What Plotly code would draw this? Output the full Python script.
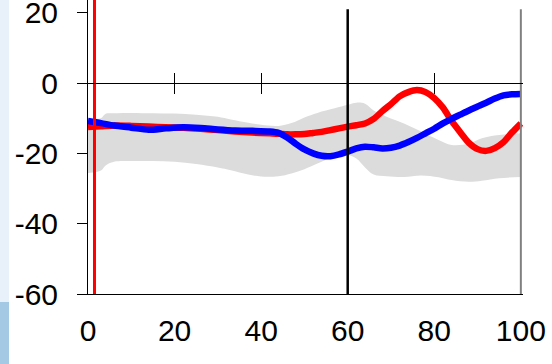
import plotly.graph_objects as go

# ---- data ----
x_ticks = [0, 20, 40, 60, 80, 100]
x_tick_labels = ["0", "20", "40", "60", "80", "100"]
y_ticks = [-60, -40, -20, 0, 20]
y_tick_labels = ["-60", "-40", "-20", "0", "20"]

line_x = [0, 3, 6, 10, 14, 18, 22, 26, 30, 34, 38, 42, 44, 46, 48, 50, 52, 54, 56, 58,
          60, 62, 64, 66, 68, 70, 72, 74, 76, 78, 80, 82, 84, 86, 88, 90, 92, 94, 96, 98, 100]
red_values = [-12.5, -12.3, -12.1, -12.2, -12.4, -12.6, -12.7, -13.0, -13.4, -13.8, -14.1, -14.3, -14.4,
              -14.6, -14.6, -14.5, -14.2, -13.9, -13.4, -12.9, -12.4, -12.0, -11.5, -10.2, -8.0, -6.0,
              -3.8, -2.6, -2.0, -2.6, -4.3, -7.0, -10.8, -14.0, -17.0, -18.8, -19.3, -18.5, -16.8,
              -14.0, -11.5]
blue_values = [-10.8, -11.4, -12.1, -12.7, -13.3, -12.9, -12.6, -12.8, -13.2, -13.5, -13.6, -13.8, -14.2,
               -15.5, -17.3, -18.9, -20.0, -20.7, -20.8, -20.3, -19.5, -18.6, -18.1, -18.3, -18.6, -18.4,
               -17.8, -16.8, -15.6, -14.3, -13.0, -11.5, -10.2, -9.0, -7.8, -6.7, -5.6, -4.4, -3.5,
               -3.2, -3.1]

band_x = [0, 3, 4, 6, 10, 15, 20, 25, 30, 33, 37, 40, 44, 47, 50, 53, 57, 60, 62, 64, 66, 69,
          73, 77, 81, 84, 88, 91, 95, 100]
band_upper = [-10.0, -10.0, -8.8, -8.6, -8.5, -8.6, -8.7, -9.0, -9.6, -10.4, -11.3, -11.9, -12.2, -11.4,
              -9.8, -8.5, -7.2, -6.2, -5.6, -5.9, -7.8, -9.6, -11.5, -13.8, -16.2, -17.6, -17.2, -15.7,
              -14.8, -14.3]
band_lower = [-25.6, -24.9, -23.5, -22.4, -22.2, -22.2, -22.4, -23.0, -24.0, -24.8, -26.0, -26.6, -26.5,
              -25.7, -24.5, -22.9, -21.0, -20.5, -21.5, -24.0, -26.0, -26.5, -26.7, -26.3, -26.8, -27.6,
              -28.1, -27.8, -27.1, -26.7]

event_x = 1.5          # red vertical marker
midline_x = 60         # black vertical line
border_x = 100         # grey right border
vline_span = [-60.5, 21.0]
event_span = [-60.5, 24.0]

X_RANGE = [0, 100.5]
Y_RANGE = [-60, 23.6]

W, H = 552, 364
ML, MR, MT, MB = 88, 29, 0, 70
FONT = "Liberation Sans, Arial, sans-serif"

fig = go.Figure()

# grey band
fig.add_trace(go.Scatter(x=band_x, y=band_lower, mode="lines", line=dict(width=0, shape="spline"),
                         hoverinfo="skip", showlegend=False))
fig.add_trace(go.Scatter(x=band_x, y=band_upper, mode="lines", line=dict(width=0, shape="spline"),
                         fill="tonexty", fillcolor="#dcdcdc", hoverinfo="skip", showlegend=False))

# series
fig.add_trace(go.Scatter(x=line_x, y=red_values, mode="lines",
                         line=dict(color="#ff0000", width=6.5, shape="spline", smoothing=0.8),
                         showlegend=False))
fig.add_trace(go.Scatter(x=line_x, y=blue_values, mode="lines",
                         line=dict(color="#0000ff", width=6.5, shape="spline", smoothing=0.8),
                         showlegend=False))

# vertical lines
fig.add_trace(go.Scatter(x=[event_x, event_x], y=event_span, mode="lines",
                         line=dict(color="#ff0000", width=3), showlegend=False, hoverinfo="skip"))
fig.add_trace(go.Scatter(x=[midline_x, midline_x], y=vline_span, mode="lines",
                         line=dict(color="#000000", width=2.5), showlegend=False, hoverinfo="skip"))
fig.add_trace(go.Scatter(x=[border_x, border_x], y=vline_span, mode="lines",
                         line=dict(color="#808080", width=2), showlegend=False, hoverinfo="skip"))

# helper traces so the zero-line axes are drawn
fig.add_trace(go.Scatter(x=[0], y=[0], xaxis="x2", mode="none", showlegend=False, hoverinfo="skip"))
fig.add_trace(go.Scatter(x=[0], y=[0], xaxis="x3", mode="none", showlegend=False, hoverinfo="skip"))

zero_frac = (0 - Y_RANGE[0]) / (Y_RANGE[1] - Y_RANGE[0])
plot_w = W - ML - MR
plot_h = H - MT - MB

common_zero_axis = dict(overlaying="x", anchor="free", position=zero_frac, range=X_RANGE,
                        tickvals=[20, 40, 60, 80], showticklabels=False, showline=True,
                        linecolor="black", linewidth=1, tickcolor="black", ticklen=10, tickwidth=1,
                        showgrid=False, zeroline=False, automargin=False)

fig.update_layout(
    width=W, height=H,
    margin=dict(l=ML, r=MR, t=MT, b=MB, pad=0, autoexpand=False),
    paper_bgcolor="white", plot_bgcolor="white",
    showlegend=False,
    font=dict(family=FONT, size=30, color="black"),
    xaxis=dict(range=X_RANGE, tickvals=x_ticks, ticktext=x_tick_labels, showline=True,
               linecolor="black", linewidth=1, ticks="", showgrid=False, zeroline=False,
               tickfont=dict(family=FONT, size=30, color="black"), ticklabelstandoff=10,
               automargin=False, ticklabeloverflow="allow"),
    xaxis2=dict(common_zero_axis, ticks="outside"),
    xaxis3=dict(common_zero_axis, ticks="inside"),
    yaxis=dict(range=Y_RANGE, tickvals=y_ticks, ticktext=y_tick_labels, showline=True,
               linecolor="black", linewidth=1, ticks="outside", ticklen=10, tickcolor="black",
               showgrid=False, zeroline=False,
               tickfont=dict(family=FONT, size=30, color="black"), ticklabelstandoff=13,
               automargin=False, ticklabeloverflow="allow"),
    shapes=[
        dict(type="rect", xref="paper", yref="paper",
             x0=(0 - ML) / plot_w, x1=(9 - ML) / plot_w,
             y0=(H - MB - 302) / plot_h, y1=(H - MB - 0) / plot_h,
             fillcolor="#e8f1fa", line=dict(width=0), layer="below"),
        dict(type="rect", xref="paper", yref="paper",
             x0=(0 - ML) / plot_w, x1=(9 - ML) / plot_w,
             y0=(H - MB - 364) / plot_h, y1=(H - MB - 302) / plot_h,
             fillcolor="#a3c9e5", line=dict(width=0), layer="below"),
    ],
)

fig.write_html("out.html", config={"displayModeBar": False},
               post_script="document.body.style.margin='0';document.body.style.overflow='hidden';")
